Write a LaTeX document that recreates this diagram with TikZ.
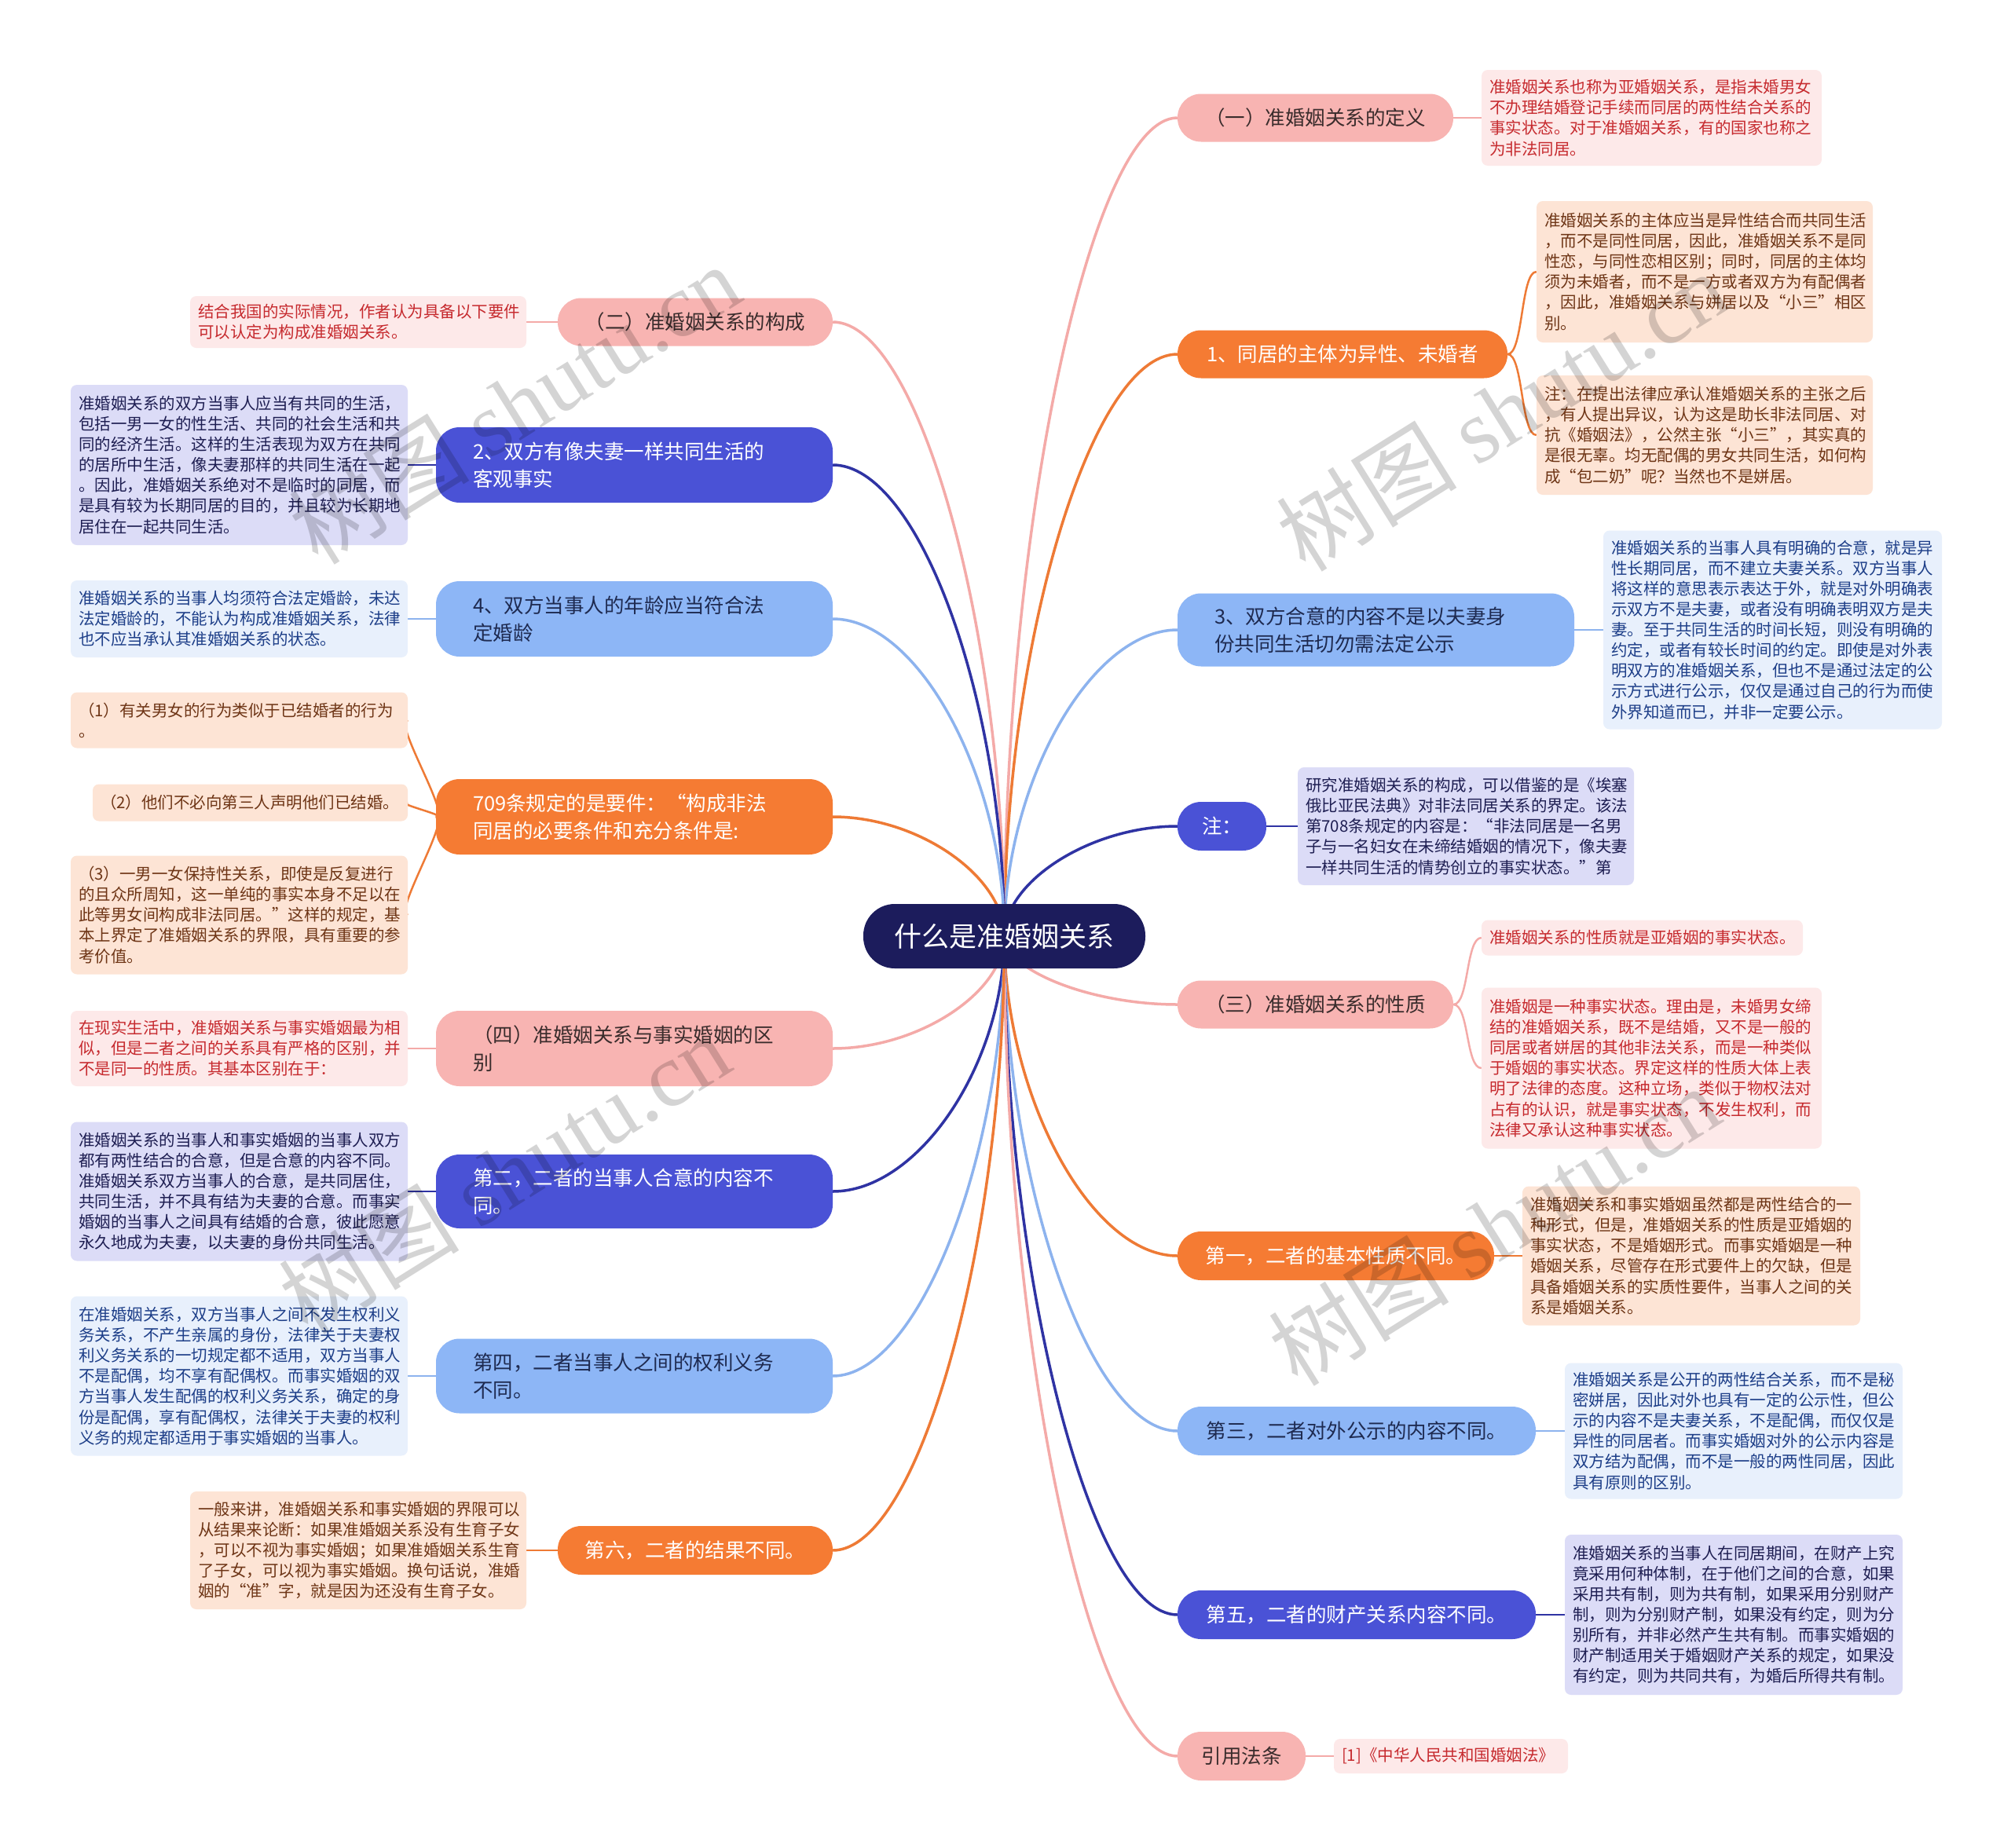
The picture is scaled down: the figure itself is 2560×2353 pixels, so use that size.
\documentclass[tikz,border=0pt]{standalone}
\usepackage{fontspec}
\setmainfont{Noto Sans CJK SC}
\newfontfamily\wmlatin{Liberation Serif}
\usetikzlibrary{calc}
\pgfdeclarelayer{bg}
\pgfdeclarelayer{paper}
\pgfsetlayers{paper,bg,main}
\definecolor{cCenter}{HTML}{1C1C5C}
\definecolor{cPink}{HTML}{F8B4B2}
\definecolor{cPinkLine}{HTML}{F4AAA8}
\definecolor{cPinkBox}{HTML}{FDE9E9}
\definecolor{cPinkText}{HTML}{C62A2E}
\definecolor{cOrange}{HTML}{F57B33}
\definecolor{cOrangeLine}{HTML}{EE7A35}
\definecolor{cPeachBox}{HTML}{FDE4D5}
\definecolor{cPeachText}{HTML}{6E3516}
\definecolor{cLBlue}{HTML}{8DB6F6}
\definecolor{cLBlueLine}{HTML}{8DB3EE}
\definecolor{cLBlueBox}{HTML}{E8F0FC}
\definecolor{cLBlueText}{HTML}{1D3E88}
\definecolor{cNavy}{HTML}{4A52D6}
\definecolor{cNavyLine}{HTML}{2F33A3}
\definecolor{cLavBox}{HTML}{DCDCF7}
\definecolor{cLavText}{HTML}{1E1E52}
\definecolor{cDarkText}{HTML}{3A2C2C}
\definecolor{cNavyText}{HTML}{1E2A50}
\tikzset{
  mainbox/.style={rounded corners=30pt, inner sep=0pt, font=\fontsize{25.5}{35}\selectfont},
  mainone/.style={mainbox, align=center},
  maintwo/.style={mainbox, inner xsep=47pt, align=left},
  pinkmain/.style={fill=cPink, text=cDarkText},
  orangemain/.style={fill=cOrange, text=white},
  lbluemain/.style={fill=cLBlue, text=cNavyText},
  navymain/.style={fill=cNavy, text=white},
  leafbox/.style={rounded corners=8pt, inner xsep=10pt, inner ysep=0pt, align=left, font=\fontsize{20.5}{26.1}\selectfont},
  pinkleaf/.style={leafbox, fill=cPinkBox, text=cPinkText},
  peachleaf/.style={leafbox, fill=cPeachBox, text=cPeachText},
  lblueleaf/.style={leafbox, fill=cLBlueBox, text=cLBlueText},
  lavleaf/.style={leafbox, fill=cLavBox, text=cLavText},
  pinkline/.style={draw=cPinkLine, line width=3.5pt},
  orangeline/.style={draw=cOrangeLine, line width=3.5pt},
  lblueline/.style={draw=cLBlueLine, line width=3.5pt},
  navyline/.style={draw=cNavyLine, line width=3.5pt},
  leafline/.style={line width=2.5pt},
  branch/.style={to path={.. controls ($(\tikztostart)!0.5!(\tikztostart |- \tikztotarget)$) and ($(\tikztostart |- \tikztotarget)!0.5!(\tikztotarget)$) .. (\tikztotarget)}},
  bracecurve/.style={to path={.. controls ($(\tikztostart)+(20,0)$) and ($(\tikztotarget)+(-20,0)$) .. (\tikztotarget)}},
  watermark/.style={rotate=32, text=black, opacity=0.17, inner sep=0pt, font=\fontsize{115}{115}\selectfont}
}
\begin{document}
\begin{tikzpicture}[x=1pt,y=-1pt]
\useasboundingbox (0,0) rectangle (2560,2353);
\begin{pgfonlayer}{paper}
\fill[white] (0,0) rectangle (2560,2353);
\end{pgfonlayer}

% center
\node[fill=cCenter, text=white, rounded corners=40pt, inner sep=0pt, minimum width=359pt, minimum height=82pt, font=\fontsize{35}{40}\selectfont] (c) at (1278.5,1192) {什么是准婚姻关系};

% right main nodes
\node[mainone, pinkmain, minimum width=351pt, minimum height=61pt] (r1) at (1674.5,150) {（一）准婚姻关系的定义};
\node[mainone, orangemain, minimum width=420pt, minimum height=61pt] (r2) at (1709,451) {1、同居的主体为异性、未婚者};
\node[maintwo, lbluemain, text width=411pt, minimum height=93pt] (r3) at (1751.5,802) {3、双方合意的内容不是以夫妻身\\份共同生活切勿需法定公示};
\node[mainone, navymain, minimum width=113pt, minimum height=62pt] (r4) at (1555.5,1052) {注：};
\node[mainone, pinkmain, minimum width=351pt, minimum height=61pt] (r5) at (1674.5,1279) {（三）准婚姻关系的性质};
\node[mainone, orangemain, minimum width=403pt, minimum height=62pt] (r6) at (1700.5,1599) {第一，二者的基本性质不同。};
\node[mainone, lbluemain, minimum width=456pt, minimum height=62pt] (r7) at (1727,1822) {第三，二者对外公示的内容不同。};
\node[mainone, navymain, minimum width=456pt, minimum height=62pt] (r8) at (1727,2056) {第五，二者的财产关系内容不同。};
\node[mainone, pinkmain, minimum width=163pt, minimum height=62pt] (r9) at (1580.5,2236) {引用法条};

% left main nodes
\node[mainone, pinkmain, minimum width=350pt, minimum height=61pt] (l1) at (885,410) {（二）准婚姻关系的构成};
\node[maintwo, navymain, text width=411pt, minimum height=96pt] (l2) at (807.5,592) {2、双方有像夫妻一样共同生活的\\客观事实};
\node[maintwo, lbluemain, text width=411pt, minimum height=96pt] (l3) at (807.5,788) {4、双方当事人的年龄应当符合法\\定婚龄};
\node[maintwo, orangemain, text width=411pt, minimum height=96pt] (l4) at (807.5,1040) {709条规定的是要件：“构成非法\\同居的必要条件和充分条件是:};
\node[maintwo, pinkmain, text width=411pt, minimum height=96pt] (l5) at (807.5,1335) {（四）准婚姻关系与事实婚姻的区\\别};
\node[maintwo, navymain, text width=411pt, minimum height=94pt] (l6) at (807.5,1517) {第二，二者的当事人合意的内容不\\同。};
\node[maintwo, lbluemain, text width=411pt, minimum height=95pt] (l7) at (807.5,1752) {第四，二者当事人之间的权利义务\\不同。};
\node[mainone, orangemain, minimum width=350pt, minimum height=62pt] (l8) at (885,1974) {第六，二者的结果不同。};

% right leaves
\node[pinkleaf, text width=413pt, minimum height=122pt] (r1c) at (2102.5,150) {准婚姻关系也称为亚婚姻关系，是指未婚男女\\不办理结婚登记手续而同居的两性结合关系的\\事实状态。对于准婚姻关系，有的国家也称之\\为非法同居。};
\node[peachleaf, text width=408pt, minimum height=180pt] (r2a) at (2170,346) {准婚姻关系的主体应当是异性结合而共同生活\\，而不是同性同居，因此，准婚姻关系不是同\\性恋，与同性恋相区别；同时，同居的主体均\\须为未婚者，而不是一方或者双方为有配偶者\\，因此，准婚姻关系与姘居以及“小三”相区\\别。};
\node[peachleaf, text width=408pt, minimum height=152pt] (r2b) at (2170,554) {注：在提出法律应承认准婚姻关系的主张之后\\，有人提出异议，认为这是助长非法同居、对\\抗《婚姻法》，公然主张“小三”，其实真的\\是很无辜。均无配偶的男女共同生活，如何构\\成“包二奶”呢？当然也不是姘居。};
\node[lblueleaf, text width=411pt, minimum height=253pt] (r3c) at (2256.5,802) {准婚姻关系的当事人具有明确的合意，就是异\\性长期同居，而不建立夫妻关系。双方当事人\\将这样的意思表示表达于外，就是对外明确表\\示双方不是夫妻，或者没有明确表明双方是夫\\妻。至于共同生活的时间长短，则没有明确的\\约定，或者有较长时间的约定。即使是对外表\\明双方的准婚姻关系，但也不是通过法定的公\\示方式进行公示，仅仅是通过自己的行为而使\\外界知道而已，并非一定要公示。};
\node[lavleaf, text width=408pt, minimum height=150pt] (r4c) at (1866,1052) {研究准婚姻关系的构成，可以借鉴的是《埃塞\\俄比亚民法典》对非法同居关系的界定。该法\\第708条规定的内容是：“非法同居是一名男\\子与一名妇女在未缔结婚姻的情况下，像夫妻\\一样共同生活的情势创立的事实状态。”第};
\node[pinkleaf, text width=389pt, minimum height=45pt] (r5a) at (2090.5,1194) {准婚姻关系的性质就是亚婚姻的事实状态。};
\node[pinkleaf, text width=413pt, minimum height=205pt] (r5b) at (2102.5,1360) {准婚姻是一种事实状态。理由是，未婚男女缔\\结的准婚姻关系，既不是结婚，又不是一般的\\同居或者姘居的其他非法关系，而是一种类似\\于婚姻的事实状态。界定这样的性质大体上表\\明了法律的态度。这种立场，类似于物权法对\\占有的认识，就是事实状态，不发生权利，而\\法律又承认这种事实状态。};
\node[peachleaf, text width=410pt, minimum height=177pt] (r6c) at (2153,1599) {准婚姻关系和事实婚姻虽然都是两性结合的一\\种形式，但是，准婚姻关系的性质是亚婚姻的\\事实状态，不是婚姻形式。而事实婚姻是一种\\婚姻关系，尽管存在形式要件上的欠缺，但是\\具备婚姻关系的实质性要件，当事人之间的关\\系是婚姻关系。};
\node[lblueleaf, text width=410pt, minimum height=173pt] (r7c) at (2207,1822) {准婚姻关系是公开的两性结合关系，而不是秘\\密姘居，因此对外也具有一定的公示性，但公\\示的内容不是夫妻关系，不是配偶，而仅仅是\\异性的同居者。而事实婚姻对外的公示内容是\\双方结为配偶，而不是一般的两性同居，因此\\具有原则的区别。};
\node[lavleaf, text width=410pt, minimum height=204pt] (r8c) at (2207,2056) {准婚姻关系的当事人在同居期间，在财产上究\\竟采用何种体制，在于他们之间的合意，如果\\采用共有制，则为共有制，如果采用分别财产\\制，则为分别财产制，如果没有约定，则为分\\别所有，并非必然产生共有制。而事实婚姻的\\财产制适用关于婚姻财产关系的规定，如果没\\有约定，则为共同共有，为婚后所得共有制。};
\node[pinkleaf, text width=278pt, minimum height=44pt] (r9c) at (1847,2236) {[1]《中华人民共和国婚姻法》};

% left leaves
\node[pinkleaf, text width=408pt, minimum height=66pt] (l1c) at (456,410) {结合我国的实际情况，作者认为具备以下要件\\可以认定为构成准婚姻关系。};
\node[lavleaf, text width=409pt, minimum height=204pt] (l2c) at (304.5,592) {准婚姻关系的双方当事人应当有共同的生活，\\包括一男一女的性生活、共同的社会生活和共\\同的经济生活。这样的生活表现为双方在共同\\的居所中生活，像夫妻那样的共同生活在一起\\。因此，准婚姻关系绝对不是临时的同居，而\\是具有较为长期同居的目的，并且较为长期地\\居住在一起共同生活。};
\node[lblueleaf, text width=409pt, minimum height=98pt] (l3c) at (304.5,788) {准婚姻关系的当事人均须符合法定婚龄，未达\\法定婚龄的，不能认为构成准婚姻关系，法律\\也不应当承认其准婚姻关系的状态。};
\node[peachleaf, text width=409pt, minimum height=71pt] (l4a) at (304.5,917) {（1）有关男女的行为类似于已结婚者的行为\\。};
\node[peachleaf, text width=381pt, minimum height=47pt] (l4b) at (318.5,1022) {（2）他们不必向第三人声明他们已结婚。};
\node[peachleaf, text width=409pt, minimum height=151pt] (l4c) at (304.5,1165) {（3）一男一女保持性关系，即使是反复进行\\的且众所周知，这一单纯的事实本身不足以在\\此等男女间构成非法同居。”这样的规定，基\\本上界定了准婚姻关系的界限，具有重要的参\\考价值。};
\node[pinkleaf, text width=409pt, minimum height=96pt] (l5c) at (304.5,1335) {在现实生活中，准婚姻关系与事实婚姻最为相\\似，但是二者之间的关系具有严格的区别，并\\不是同一的性质。其基本区别在于：};
\node[lavleaf, text width=409pt, minimum height=177pt] (l6c) at (304.5,1517) {准婚姻关系的当事人和事实婚姻的当事人双方\\都有两性结合的合意，但是合意的内容不同。\\准婚姻关系双方当事人的合意，是共同居住，\\共同生活，并不具有结为夫妻的合意。而事实\\婚姻的当事人之间具有结婚的合意，彼此愿意\\永久地成为夫妻，以夫妻的身份共同生活。};
\node[lblueleaf, text width=409pt, minimum height=203pt] (l7c) at (304.5,1752) {在准婚姻关系，双方当事人之间不发生权利义\\务关系，不产生亲属的身份，法律关于夫妻权\\利义务关系的一切规定都不适用，双方当事人\\不是配偶，均不享有配偶权。而事实婚姻的双\\方当事人发生配偶的权利义务关系，确定的身\\份是配偶，享有配偶权，法律关于夫妻的权利\\义务的规定都适用于事实婚姻的当事人。};
\node[peachleaf, text width=408pt, minimum height=150pt] (l8c) at (456,1974) {一般来讲，准婚姻关系和事实婚姻的界限可以\\从结果来论断：如果准婚姻关系没有生育子女\\，可以不视为事实婚姻；如果准婚姻关系生育\\了子女，可以视为事实婚姻。换句话说，准婚\\姻的“准”字，就是因为还没有生育子女。};

\begin{pgfonlayer}{bg}
% branches from center
\draw[pinkline] (c.center) to[branch] (r1.west);
\draw[orangeline] (c.center) to[branch] (r2.west);
\draw[lblueline] (c.center) to[branch] (r3.west);
\draw[navyline] (c.center) to[branch] (r4.west);
\draw[pinkline] (c.center) to[branch] (r5.west);
\draw[orangeline] (c.center) to[branch] (r6.west);
\draw[lblueline] (c.center) to[branch] (r7.west);
\draw[navyline] (c.center) to[branch] (r8.west);
\draw[pinkline] (c.center) to[branch] (r9.west);
\draw[pinkline] (c.center) to[branch] (l1.east);
\draw[navyline] (c.center) to[branch] (l2.east);
\draw[lblueline] (c.center) to[branch] (l3.east);
\draw[orangeline] (c.center) to[branch] (l4.east);
\draw[pinkline] (c.center) to[branch] (l5.east);
\draw[navyline] (c.center) to[branch] (l6.east);
\draw[lblueline] (c.center) to[branch] (l7.east);
\draw[orangeline] (c.center) to[branch] (l8.east);
% leaf connectors
\draw[pinkline, leafline] (r1.east) -- (r1c.west);
\draw[orangeline, leafline] (r2.east) to[bracecurve] (r2a.west);
\draw[orangeline, leafline] (r2.east) to[bracecurve] (r2b.west);
\draw[lblueline, leafline] (r3.east) -- (r3c.west);
\draw[navyline, leafline] (r4.east) -- (r4c.west);
\draw[pinkline, leafline] (r5.east) to[bracecurve] (r5a.west);
\draw[pinkline, leafline] (r5.east) to[bracecurve] (r5b.west);
\draw[orangeline, leafline] (r6.east) -- (r6c.west);
\draw[lblueline, leafline] (r7.east) -- (r7c.west);
\draw[navyline, leafline] (r8.east) -- (r8c.west);
\draw[pinkline, leafline] (r9.east) -- (r9c.west);
\draw[pinkline, leafline] (l1.west) -- (l1c.east);
\draw[navyline, leafline] (l2.west) -- (l2c.east);
\draw[lblueline, leafline] (l3.west) -- (l3c.east);
\draw[orangeline, leafline] (l4.west) to[bracecurve] (l4a.east);
\draw[orangeline, leafline] (l4.west) to[bracecurve] (l4b.east);
\draw[orangeline, leafline] (l4.west) to[bracecurve] (l4c.east);
\draw[pinkline, leafline] (l5.west) -- (l5c.east);
\draw[navyline, leafline] (l6.west) -- (l6c.east);
\draw[lblueline, leafline] (l7.west) -- (l7c.east);
\draw[orangeline, leafline] (l8.west) -- (l8c.east);
\end{pgfonlayer}

% watermarks
\node[watermark] (wm1) at (655,514) {树图 {\wmlatin shutu.cn}};
\node[watermark] (wm2) at (1912,523) {树图 {\wmlatin shutu.cn}};
\node[watermark] (wm3) at (642,1494) {树图 {\wmlatin shutu.cn}};
\node[watermark] (wm4) at (1902,1560) {树图 {\wmlatin shutu.cn}};
\end{tikzpicture}
\end{document}
